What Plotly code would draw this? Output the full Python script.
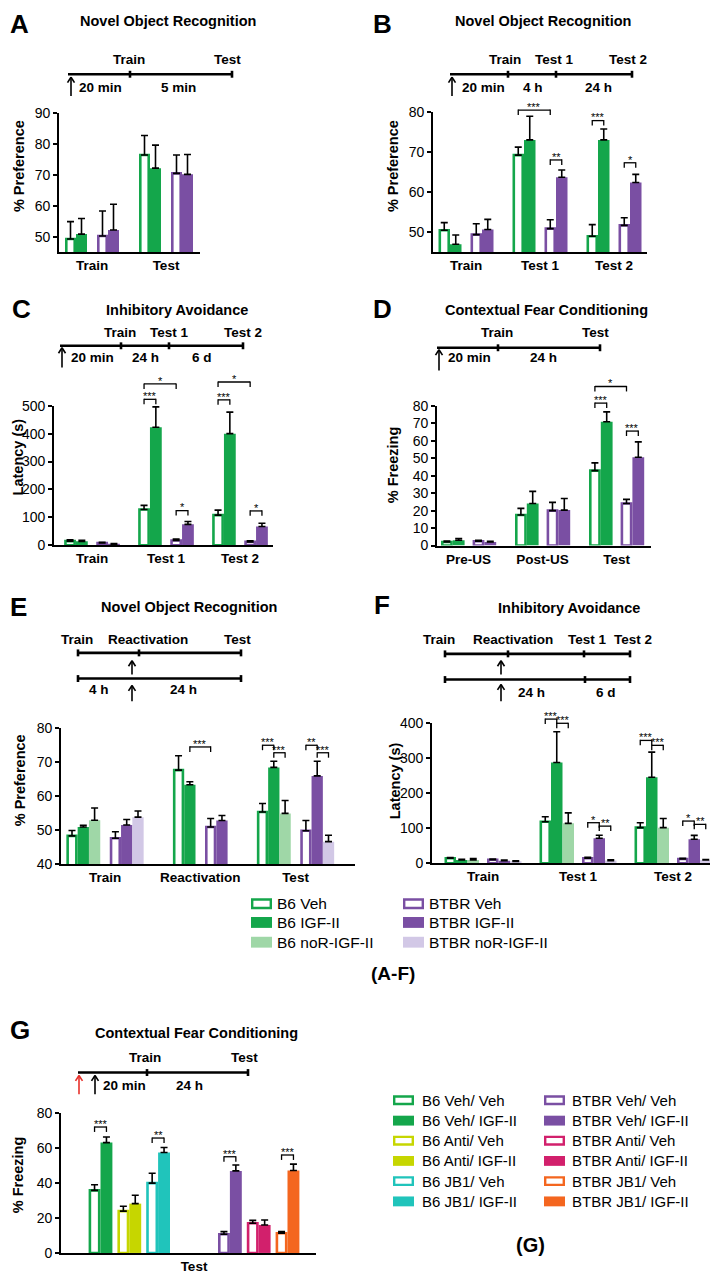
import plotly.graph_objects as go

# Page is rendered with the browser's default 8px body margin, so the figure is
# sized to fill the remaining 710x1272 area and pixel positions are offset by 8.
PAGE_W, PAGE_H = 718, 1280
OFF = 8
W, H = PAGE_W - OFF, PAGE_H - OFF
FONT = "Liberation Sans, Arial, Helvetica, sans-serif"

# ======================= DATA =======================
# Panel A - Novel Object Recognition (% Preference)
a_categories = ["Train", "Test"]
a_b6_veh = [49.4, 76.4]
a_b6_veh_sem = [5.6, 6.3]
a_b6_igf = [51.0, 72.2]
a_b6_igf_sem = [5.0, 7.4]
a_btbr_veh = [50.4, 70.5]
a_btbr_veh_sem = [8.0, 5.9]
a_btbr_igf = [52.3, 70.2]
a_btbr_igf_sem = [8.3, 6.4]

# Panel B - Novel Object Recognition (% Preference)
b_categories = ["Train", "Test 1", "Test 2"]
b_b6_veh = [50.5, 69.2, 49.0]
b_b6_veh_sem = [1.9, 2.0, 2.9]
b_b6_igf = [47.0, 73.0, 73.0]
b_b6_igf_sem = [2.3, 5.9, 2.7]
b_btbr_veh = [49.4, 50.9, 51.7]
b_btbr_veh_sem = [2.7, 2.2, 1.9]
b_btbr_igf = [50.7, 63.7, 62.4]
b_btbr_igf_sem = [2.5, 1.8, 2.0]
b_brackets = [(1, 0, 2, 80.4, "***"), (1, 2, 3, 68.0, "**"),
              (2, 0, 1, 77.8, "***"), (2, 2, 3, 67.3, "*")]

# Panel C - Inhibitory Avoidance (Latency, s)
c_categories = ["Train", "Test 1", "Test 2"]
c_b6_veh = [15, 128, 108]
c_b6_veh_sem = [5, 15, 18]
c_b6_igf = [14, 423, 400]
c_b6_igf_sem = [4, 73, 77]
c_btbr_veh = [8, 17, 12]
c_btbr_veh_sem = [3, 5, 4]
c_btbr_igf = [4, 75, 67]
c_btbr_igf_sem = [2, 10, 12]
c_brackets = [(1, 0, 1, 523, "***"), (1, 0, 2, 578, "*"), (1, 2, 3, 124, "*"),
              (2, 0, 1, 521, "***"), (2, 0, 2, 585, "*"), (2, 2, 3, 123, "*")]

# Panel D - Contextual Fear Conditioning (% Freezing)
d_categories = ["Pre-US", "Post-US", "Test"]
d_b6_veh = [2.0, 17.5, 42.9]
d_b6_veh_sem = [0.6, 3.8, 4.4]
d_b6_igf = [3.0, 24.1, 70.8]
d_b6_igf_sem = [1.0, 6.9, 5.7]
d_btbr_veh = [2.5, 20.0, 24.1]
d_btbr_veh_sem = [0.5, 4.7, 2.3]
d_btbr_igf = [2.0, 20.3, 50.5]
d_btbr_igf_sem = [0.5, 6.6, 8.8]
d_brackets = [(2, 0, 1, 81.5, "***"), (2, 0, 2, 91, "*"), (2, 2, 3, 65.5, "***")]

# Panel E - Novel Object Recognition with reactivation (% Preference)
e_categories = ["Train", "Reactivation", "Test"]
e_b6_veh = [48.4, 67.7, 55.4]
e_b6_veh_sem = [1.6, 4.2, 2.5]
e_b6_igf = [51.0, 63.4, 68.5]
e_b6_igf_sem = [0.5, 0.9, 1.8]
e_b6_nor = [53.0, None, 55.0]
e_b6_nor_sem = [3.6, None, 3.8]
e_btbr_veh = [47.7, 51.0, 49.9]
e_btbr_veh_sem = [1.9, 2.5, 3.0]
e_btbr_igf = [51.6, 52.9, 66.0]
e_btbr_igf_sem = [1.6, 1.5, 4.3]
e_btbr_nor = [53.9, None, 46.7]
e_btbr_nor_sem = [1.8, None, 1.9]
e_brackets = [(1, 1, 3, 74.5, "***"), (2, 0, 1, 75.0, "***"), (2, 1, 2, 72.8, "***"),
              (2, 3, 4, 75.0, "**"), (2, 4, 5, 72.8, "***")]

# Panel F - Inhibitory Avoidance with reactivation (Latency, s)
f_categories = ["Train", "Test 1", "Test 2"]
f_b6_veh = [14, 118.6, 101.6]
f_b6_veh_sem = [2, 14, 14]
f_b6_igf = [9, 288, 245.6]
f_b6_igf_sem = [2, 88, 72]
f_b6_nor = [9, 114, 101.6]
f_b6_nor_sem = [4, 30, 26]
f_btbr_veh = [10, 14, 12]
f_btbr_veh_sem = [2, 3, 2]
f_btbr_igf = [7, 71.5, 68.7]
f_btbr_igf_sem = [2, 8.5, 11]
f_btbr_nor = [5, 7.5, 9.4]
f_btbr_nor_sem = [2, 2, 1]
f_brackets = [(1, 0, 1, 412, "***"), (1, 1, 2, 400, "***"), (1, 3, 4, 115.8, "*"), (1, 4, 5, 106, "**"),
              (2, 0, 1, 351, "***"), (2, 1, 2, 337, "***"), (2, 3, 4, 120.5, "*"), (2, 4, 5, 111, "**")]

# Panel G - Contextual Fear Conditioning, antagonists (% Freezing)
g_categories = ["Test"]
g_groups = ["B6 Veh/ Veh", "B6 Veh/ IGF-II", "B6 Anti/ Veh", "B6 Anti/ IGF-II", "B6 JB1/ Veh", "B6 JB1/ IGF-II",
            "BTBR Veh/ Veh", "BTBR Veh/ IGF-II", "BTBR Anti/ Veh", "BTBR Anti/ IGF-II", "BTBR JB1/ Veh", "BTBR JB1/ IGF-II"]
g_means = [35.8, 63.1, 23.9, 28.2, 39.9, 57.4, 10.7, 46.9, 17.0, 16.0, 11.3, 47.1]
g_sems = [3.2, 3.2, 2.8, 4.8, 5.7, 2.9, 1.5, 3.4, 1.6, 2.8, 0.9, 3.7]
g_brackets = [(0, 0, 1, 72, "***"), (0, 4, 5, 65.7, "**"), (0, 6, 7, 55, "***"), (0, 10, 11, 56, "***")]

legend_af_col1 = ["B6 Veh", "B6 IGF-II", "B6 noR-IGF-II"]
legend_af_col2 = ["BTBR Veh", "BTBR IGF-II", "BTBR noR-IGF-II"]
legend_g_col1 = g_groups[:6]
legend_g_col2 = g_groups[6:]

# ======================= STYLE =======================
GREEN = "#14a64b"
PURPLE = "#7a4fa3"
LGREEN = "#9fd7a7"
LPURPLE = "#d2c8e6"
ANTI = "#c6d600"
JB1 = "#20c4bb"
BANTI = "#d2206c"
BJB1 = "#f4661f"

STYLE = {
    "B6 Veh": (GREEN, True), "B6 IGF-II": (GREEN, False), "B6 noR-IGF-II": (LGREEN, False),
    "BTBR Veh": (PURPLE, True), "BTBR IGF-II": (PURPLE, False), "BTBR noR-IGF-II": (LPURPLE, False),
    "B6 Veh/ Veh": (GREEN, True), "B6 Veh/ IGF-II": (GREEN, False),
    "B6 Anti/ Veh": (ANTI, True), "B6 Anti/ IGF-II": (ANTI, False),
    "B6 JB1/ Veh": (JB1, True), "B6 JB1/ IGF-II": (JB1, False),
    "BTBR Veh/ Veh": (PURPLE, True), "BTBR Veh/ IGF-II": (PURPLE, False),
    "BTBR Anti/ Veh": (BANTI, True), "BTBR Anti/ IGF-II": (BANTI, False),
    "BTBR JB1/ Veh": (BJB1, True), "BTBR JB1/ IGF-II": (BJB1, False),
}

panels = [
    dict(letter="A", title="Novel Object Recognition", ytitle="% Preference", cats=a_categories,
         series=[("B6 Veh", a_b6_veh, a_b6_veh_sem), ("B6 IGF-II", a_b6_igf, a_b6_igf_sem),
                 ("BTBR Veh", a_btbr_veh, a_btbr_veh_sem), ("BTBR IGF-II", a_btbr_igf, a_btbr_igf_sem)],
         brackets=[], box=(59, 200, 106, 247), yrange=(45.24, 90), yticks=[50, 60, 70, 80, 90],
         c0=92, step=74, bw=11, gap_big=10, gap_small=0,
         letter_xy=(20, 16), title_xy=(168, 13), ytitle_xy=(19, 160)),
    dict(letter="B", title="Novel Object Recognition", ytitle="% Preference", cats=b_categories,
         series=[("B6 Veh", b_b6_veh, b_b6_veh_sem), ("B6 IGF-II", b_b6_igf, b_b6_igf_sem),
                 ("BTBR Veh", b_btbr_veh, b_btbr_veh_sem), ("BTBR IGF-II", b_btbr_igf, b_btbr_igf_sem)],
         brackets=b_brackets, box=(433, 647, 105, 247), yrange=(45.08, 80), yticks=[50, 60, 70, 80],
         c0=466, step=74, bw=11.5, gap_big=9, gap_small=0,
         letter_xy=(382, 16), title_xy=(543, 13), ytitle_xy=(393, 160)),
    dict(letter="C", title="Inhibitory Avoidance", ytitle="Latency (s)", cats=c_categories,
         series=[("B6 Veh", c_b6_veh, c_b6_veh_sem), ("B6 IGF-II", c_b6_igf, c_b6_igf_sem),
                 ("BTBR Veh", c_btbr_veh, c_btbr_veh_sem), ("BTBR IGF-II", c_btbr_igf, c_btbr_igf_sem)],
         brackets=c_brackets, box=(54, 273, 402.7, 544), yrange=(0, 500), yticks=[0, 100, 200, 300, 400, 500],
         c0=92, step=74, bw=11.8, gap_big=8.5, gap_small=0,
         letter_xy=(21, 305), title_xy=(177, 306), ytitle_xy=(18, 455)),
    dict(letter="D", title="Contextual Fear Conditioning", ytitle="% Freezing", cats=d_categories,
         series=[("B6 Veh", d_b6_veh, d_b6_veh_sem), ("B6 IGF-II", d_b6_igf, d_b6_igf_sem),
                 ("BTBR Veh", d_btbr_veh, d_btbr_veh_sem), ("BTBR IGF-II", d_btbr_igf, d_btbr_igf_sem)],
         brackets=d_brackets, box=(437, 651, 402.7, 544.3), yrange=(0, 80),
         yticks=[0, 10, 20, 30, 40, 50, 60, 70, 80],
         c0=468.6, step=74, bw=11.8, gap_big=8, gap_small=0,
         letter_xy=(382, 305), title_xy=(546, 306), ytitle_xy=(393, 463)),
    dict(letter="E", title="Novel Object Recognition", ytitle="% Preference", cats=e_categories,
         series=[("B6 Veh", e_b6_veh, e_b6_veh_sem), ("B6 IGF-II", e_b6_igf, e_b6_igf_sem),
                 ("B6 noR-IGF-II", e_b6_nor, e_b6_nor_sem),
                 ("BTBR Veh", e_btbr_veh, e_btbr_veh_sem), ("BTBR IGF-II", e_btbr_igf, e_btbr_igf_sem),
                 ("BTBR noR-IGF-II", e_btbr_nor, e_btbr_nor_sem)],
         brackets=e_brackets, box=(61, 355, 729.3, 867.3), yrange=(40, 80), yticks=[40, 50, 60, 70, 80],
         c0=105, step=95.25, bw=11.3, gap_big=9.5, gap_small=0,
         letter_xy=(18, 607), title_xy=(189, 607), ytitle_xy=(20, 782)),
    dict(letter="F", title="Inhibitory Avoidance", ytitle="Latency (s)", cats=f_categories,
         series=[("B6 Veh", f_b6_veh, f_b6_veh_sem), ("B6 IGF-II", f_b6_igf, f_b6_igf_sem),
                 ("B6 noR-IGF-II", f_b6_nor, f_b6_nor_sem),
                 ("BTBR Veh", f_btbr_veh, f_btbr_veh_sem), ("BTBR IGF-II", f_btbr_igf, f_btbr_igf_sem),
                 ("BTBR noR-IGF-II", f_btbr_nor, f_btbr_nor_sem)],
         brackets=f_brackets, box=(432, 718, 724.3, 866), yrange=(0, 400), yticks=[0, 100, 200, 300, 400],
         c0=483, step=95, bw=11.5, gap_big=8, gap_small=0,
         letter_xy=(382, 604), title_xy=(569, 608), ytitle_xy=(395, 783)),
    dict(letter="G", title="Contextual Fear Conditioning", ytitle="% Freezing", cats=g_categories,
         series=[(n, [m], [s]) for n, m, s in zip(g_groups, g_means, g_sems)],
         brackets=g_brackets, box=(61, 316, 1119, 1260.7), yrange=(0, 80), yticks=[0, 20, 40, 60, 80],
         c0=194, step=255, bw=11.9, gap_big=48, gap_small=5,
         letter_xy=(20, 1035), title_xy=(197, 1038), ytitle_xy=(18, 1182)),
]

# Timeline schematics (pixel layout)
timelines = [
    dict(lines=[(68, 232, 67, [130, 232])], top=(52, [("Train", 129), ("Test", 228)]),
         bottom=(80, [("20 min", 100), ("5 min", 178)]), arrows=[(71, 89, 70, "black")]),
    dict(lines=[(450, 632, 67, [508, 556, 632])], top=(52, [("Train", 505), ("Test 1", 554), ("Test 2", 628)]),
         bottom=(80, [("20 min", 483), ("4 h", 533), ("24 h", 598)]), arrows=[(452, 89, 70, "black")]),
    dict(lines=[(60, 243, 342, [121, 169, 243])], top=(329, [("Train", 120), ("Test 1", 169), ("Test 2", 243)]),
         bottom=(354, [("20 min", 92), ("24 h", 145), ("6 d", 202)]), arrows=[(62, 364, 344, "black")]),
    dict(lines=[(437, 600, 344, [498, 600])], top=(329, [("Train", 497), ("Test", 595)]),
         bottom=(354, [("20 min", 469), ("24 h", 543)]), arrows=[(439, 367, 346, "black")]),
    dict(lines=[(78, 241, 653, [78, 139, 241]), (78, 241, 679, [78, 241])],
         top=(639, [("Train", 77), ("Reactivation", 148), ("Test", 237)]),
         bottom=(690, [("4 h", 99), ("24 h", 183)]), arrows=[(132, 675, 661, "black"), (132, 702, 686, "black")]),
    dict(lines=[(445, 630, 654, [445, 508, 584, 630]), (445, 630, 680, [445, 585, 630])],
         top=(639, [("Train", 439), ("Reactivation", 513), ("Test 1", 587), ("Test 2", 633)]),
         bottom=(693, [("24 h", 531), ("6 d", 606)]), arrows=[(501, 675, 661, "black"), (501, 702, 685, "black")]),
    dict(lines=[(78, 248, 1078, [147, 248])], top=(1063, [("Train", 145), ("Test", 244)]),
         bottom=(1091, [("20 min", 124), ("24 h", 189)]),
         arrows=[(79, 1100, 1081, "#e8302a"), (95, 1100, 1081, "black")]),
]

# ======================= DRAWING =======================
shapes = []
annotations = []


def P(x, y):
    return (x - OFF) / W, 1 - (y - OFF) / H


def line(x0, y0, x1, y1, color="black", width=2.0):
    X0, Y0 = P(x0, y0)
    X1, Y1 = P(x1, y1)
    shapes.append(dict(type="line", xref="paper", yref="paper", x0=X0, y0=Y0, x1=X1, y1=Y1,
                       line=dict(color=color, width=width)))


def rect(x0, y0, x1, y1, fill, border, bw):
    X0, Y0 = P(x0, y0)
    X1, Y1 = P(x1, y1)
    shapes.append(dict(type="rect", xref="paper", yref="paper", x0=X0, y0=Y0, x1=X1, y1=Y1,
                       fillcolor=fill, line=dict(color=border, width=bw)))


def text(x, y, s, size=13, bold=False, color="black", angle=0, xanchor="center", yanchor="middle"):
    X, Y = P(x, y)
    annotations.append(dict(xref="paper", yref="paper", x=X, y=Y, text=s, showarrow=False,
                            font=dict(size=size, color=color, family=FONT,
                                      weight="bold" if bold else "normal"),
                            textangle=angle, xanchor=xanchor, yanchor=yanchor, borderpad=0))


def arrow(x, yb, yt, color="black"):
    line(x, yb, x, yt, color, 1.6)
    line(x - 3.5, yt + 5.5, x, yt, color, 1.6)
    line(x + 3.5, yt + 5.5, x, yt, color, 1.6)


def geno(name):
    return name.split()[0]


def block(name):
    return name.split("/")[0] if "/" in name else geno(name)


def layout_offsets(series, ci, bw, gap_big, gap_small):
    lefts = {}
    pos = 0.0
    prev = None
    for name, vals, _ in series:
        if vals[ci] is None:
            continue
        if prev is not None:
            if geno(name) != geno(prev):
                pos += gap_big
            elif block(name) != block(prev):
                pos += gap_small
        lefts[name] = pos
        pos += bw
        prev = name
    return {n: v - pos / 2 for n, v in lefts.items()}


fig = go.Figure()
layout_axes = {}

for k, pnl in enumerate(panels, start=1):
    xa = "x" if k == 1 else f"x{k}"
    ya = "y" if k == 1 else f"y{k}"
    x0, x1, yt, yb = pnl["box"]
    c0, step, bw = pnl["c0"], pnl["step"], pnl["bw"]
    cats = pnl["cats"]
    ncat = len(cats)
    lo, hi = pnl["yrange"]
    offs = [layout_offsets(pnl["series"], ci, bw, pnl["gap_big"], pnl["gap_small"]) for ci in range(ncat)]

    for name, vals, sems in pnl["series"]:
        color, is_open = STYLE[name]
        lw = 2.6 if is_open else 0
        offset = [(offs[ci].get(name, 0) + lw / 2) / step for ci in range(ncat)]
        fig.add_trace(go.Bar(
            x=cats, y=vals, offset=offset, width=(bw - lw) / step,
            xaxis=xa, yaxis=ya, showlegend=False, hoverinfo="skip",
            marker=dict(color="white" if is_open else color, line=dict(color=color, width=lw)),
            error_y=dict(type="data", symmetric=False,
                         array=[s if s is not None else 0 for s in sems],
                         arrayminus=[0] * ncat, color="black", thickness=1.6, width=3.5),
        ))

    def ymap(v):
        return yt + (hi - v) / (hi - lo) * (yb - yt)

    def xcen(ci, name):
        return c0 + ci * step + offs[ci][name] + bw / 2

    names = [s[0] for s in pnl["series"]]
    for ci, si, sj, yv, lab in pnl["brackets"]:
        xa_ = xcen(ci, names[si])
        xb_ = xcen(ci, names[sj])
        y = ymap(yv)
        line(xa_, y, xb_, y, width=1.3)
        line(xa_, y - 0.6, xa_, y + 5, width=1.3)
        line(xb_, y - 0.6, xb_, y + 5, width=1.3)
        text((xa_ + xb_) / 2, y - 3.2, lab, size=11)

    dx0 = (x0 - OFF) / W
    dx1 = min((x1 - OFF) / W, 1.0)
    xr1 = min(x1, PAGE_W)
    layout_axes["xaxis" if k == 1 else f"xaxis{k}"] = dict(
        domain=[dx0, dx1], anchor=ya, type="category",
        categoryorder="array", categoryarray=cats,
        range=[(x0 - c0) / step, (xr1 - c0) / step],
        showline=True, linecolor="black", linewidth=1.6, ticks="", showgrid=False, zeroline=False,
        tickfont=dict(size=13.5, family=FONT, weight="bold", color="black"), fixedrange=True)
    layout_axes["yaxis" if k == 1 else f"yaxis{k}"] = dict(
        domain=[1 - (yb - OFF) / H, 1 - (yt - OFF) / H], anchor=xa, range=[lo, hi], tickvals=pnl["yticks"],
        ticks="outside", ticklen=4, tickwidth=1.5, tickcolor="black",
        showline=True, linecolor="black", linewidth=1.6, showgrid=False, zeroline=False,
        tickfont=dict(size=14, family=FONT, color="black"), fixedrange=True)

    text(*pnl["letter_xy"], pnl["letter"], size=26, bold=True)
    text(*pnl["title_xy"], pnl["title"], size=14.5, bold=True)
    text(*pnl["ytitle_xy"], pnl["ytitle"], size=14.5, bold=True, angle=-90)

for tl in timelines:
    for lx0, lx1, ly, ticks in tl["lines"]:
        line(lx0, ly, lx1, ly, width=2.6)
        for tx in ticks:
            line(tx, ly - 3.5, tx, ly + 3.5, width=2.6)
    ty, labs = tl["top"]
    for s, tx in labs:
        text(tx, ty, s, size=13.5, bold=True)
    by, labs = tl["bottom"]
    for s, tx in labs:
        text(tx, by, s, size=13.5, bold=True)
    for ax_, ayb, ayt, col in tl["arrows"]:
        arrow(ax_, ayb, ayt, col)


def legend_column(names, sx, tx, rows, sw, sh, size):
    for name, ry in zip(names, rows):
        color, is_open = STYLE[name]
        if is_open:
            rect(sx + 1.2, ry - sh / 2 + 1.2, sx + sw - 1.2, ry + sh / 2 - 1.2, "white", color, 2.4)
        else:
            rect(sx, ry - sh / 2, sx + sw, ry + sh / 2, color, color, 0)
        text(tx, ry, name, size=size, xanchor="left")


legend_column(legend_af_col1, 251, 276, [907, 926, 946], 21, 11, 15.5)
legend_column(legend_af_col2, 403, 428, [907, 926, 946], 21, 11, 15.5)
text(393, 978, "(A-F)", size=19, bold=True)

g_rows = [1106, 1126.7, 1147, 1167.5, 1188, 1208.5]
legend_column(legend_g_col1, 393, 421, g_rows, 21, 10, 15)
legend_column(legend_g_col2, 544, 571, g_rows, 21, 10, 15)
text(530, 1253, "(G)", size=20, bold=True)

fig.update_layout(
    width=W, height=H, autosize=False,
    margin=dict(l=0, r=0, t=0, b=0),
    paper_bgcolor="white", plot_bgcolor="rgba(0,0,0,0)",
    barmode="overlay", showlegend=False,
    font=dict(family=FONT, color="black"),
    shapes=shapes, annotations=annotations,
    **layout_axes,
)

fig.write_html("out.html")
